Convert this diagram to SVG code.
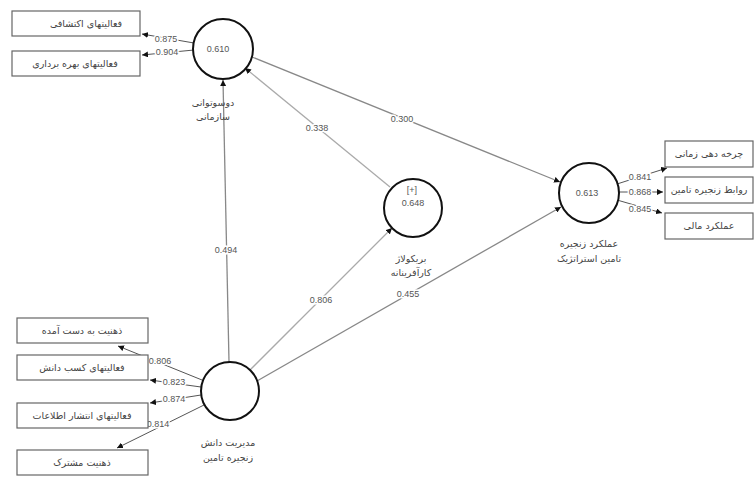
<svg xmlns="http://www.w3.org/2000/svg" width="756" height="477" viewBox="0 0 756 477">
<style>
.box{fill:#fff;stroke:#666;stroke-width:1.2}
.lv{fill:#fff;stroke:#111;stroke-width:2}
.fa{font-family:"DejaVu Sans",sans-serif;font-size:9.5px;fill:#444;text-anchor:middle}
.num{font-family:"Liberation Sans",sans-serif;font-size:9px;fill:#555;text-anchor:middle;stroke:#fff;stroke-width:3;paint-order:stroke}
.cn{font-family:"Liberation Sans",sans-serif;font-size:9px;fill:#555;text-anchor:middle}
.ld{stroke:#555;stroke-width:1;fill:none}
.path{stroke:#aaa;stroke-width:1.3;fill:none}
.pathd{stroke:#888;stroke-width:1.3;fill:none}
</style>
<defs>
<marker id="ah" viewBox="0 0 10 10" refX="10" refY="5" markerWidth="6" markerHeight="6" markerUnits="userSpaceOnUse" orient="auto">
<path d="M0,0 L10,5 L0,10 z" fill="#111"/>
</marker>
</defs>
<rect width="756" height="477" fill="#fff"/>
<g id="connectors">
<line class="ld" x1="194" y1="43" x2="142" y2="34" marker-end="url(#ah)"/>
<line class="ld" x1="194" y1="50" x2="142" y2="55" marker-end="url(#ah)"/>
<line class="pathd" x1="252" y1="57" x2="560" y2="182" marker-end="url(#ah)"/>
<line class="path" x1="390" y1="187" x2="245" y2="68" marker-end="url(#ah)"/>
<line class="pathd" x1="229" y1="362" x2="223" y2="80" marker-end="url(#ah)"/>
<line class="path" x1="250" y1="370" x2="392" y2="228" marker-end="url(#ah)"/>
<line class="pathd" x1="257" y1="381" x2="561" y2="207" marker-end="url(#ah)"/>
<line class="ld" x1="617" y1="184" x2="667" y2="168" marker-end="url(#ah)"/>
<line class="ld" x1="619" y1="192" x2="663" y2="192" marker-end="url(#ah)"/>
<line class="ld" x1="617" y1="200" x2="662" y2="213" marker-end="url(#ah)"/>
<line class="ld" x1="202" y1="380" x2="118" y2="346" marker-end="url(#ah)"/>
<line class="ld" x1="201" y1="387" x2="150" y2="380" marker-end="url(#ah)"/>
<line class="ld" x1="201" y1="395" x2="150" y2="403" marker-end="url(#ah)"/>
<line class="ld" x1="204" y1="405" x2="117" y2="448" marker-end="url(#ah)"/>
<text class="num" x="166" y="42">0.875</text>
<text class="num" x="167" y="55">0.904</text>
<text class="num" x="402" y="122">0.300</text>
<text class="num" x="317" y="131">0.338</text>
<text class="num" x="226" y="253">0.494</text>
<text class="num" x="321" y="303">0.806</text>
<text class="num" x="408" y="297">0.455</text>
<text class="num" x="640" y="180">0.841</text>
<text class="num" x="640" y="195">0.868</text>
<text class="num" x="640" y="212">0.845</text>
<text class="num" x="160" y="364">0.806</text>
<text class="num" x="174" y="385">0.823</text>
<text class="num" x="174" y="402">0.874</text>
<text class="num" x="158" y="427">0.814</text>
</g>
<g id="box-ekteshafi"><rect class="box" x="12" y="11" width="128" height="25"/><text class="fa" x="86" y="27">فعالیتهای اکتشافی</text></g>
<g id="box-bahrebardari"><rect class="box" x="12" y="51" width="128" height="25"/><text class="fa" x="75" y="67">فعالیتهای بهره برداری</text></g>
<g id="lv-ambidexterity"><circle class="lv" cx="223" cy="49" r="30"/><text class="cn" x="218" y="52">0.610</text><text class="fa" x="213" y="106">دوسوتوانی</text><text class="fa" x="213" y="120">سازمانی</text></g>
<g id="lv-bricolage"><circle class="lv" cx="413" cy="208" r="29"/><text class="cn" x="412" y="193">[+]</text><text class="cn" x="413" y="206">0.648</text><text class="fa" x="411" y="262">بریکولاژ</text><text class="fa" x="411" y="276">کارآفرینانه</text></g>
<g id="lv-performance"><circle class="lv" cx="589" cy="193" r="30"/><text class="cn" x="587" y="196">0.613</text><text class="fa" x="589" y="247">عملکرد زنجیره</text><text class="fa" x="589" y="262">تامین استراتژیک</text></g>
<g id="box-cycle"><rect class="box" x="665" y="141" width="88" height="26"/><text class="fa" x="709" y="157">چرخه دهی زمانی</text></g>
<g id="box-relations"><rect class="box" x="665" y="177" width="88" height="26"/><text class="fa" x="709" y="193">روابط زنجیره تامین</text></g>
<g id="box-financial"><rect class="box" x="665" y="213" width="88" height="26"/><text class="fa" x="709" y="229">عملکرد مالی</text></g>
<g id="lv-km"><circle class="lv" cx="230" cy="391" r="29"/><text class="fa" x="228" y="446">مدیریت دانش</text><text class="fa" x="228" y="461">زنجیره تامین</text></g>
<g id="box-zehniat1"><rect class="box" x="17" y="318" width="131" height="25"/><text class="fa" x="82" y="334">ذهنیت به دست آمده</text></g>
<g id="box-kasb"><rect class="box" x="17" y="355" width="131" height="25"/><text class="fa" x="82" y="371">فعالیتهای کسب دانش</text></g>
<g id="box-enteshar"><rect class="box" x="17" y="403" width="131" height="25"/><text class="fa" x="82" y="419">فعالیتهای انتشار اطلاعات</text></g>
<g id="box-zehniat2"><rect class="box" x="17" y="450" width="131" height="25"/><text class="fa" x="82" y="466">ذهنیت مشترک</text></g>
</svg>
